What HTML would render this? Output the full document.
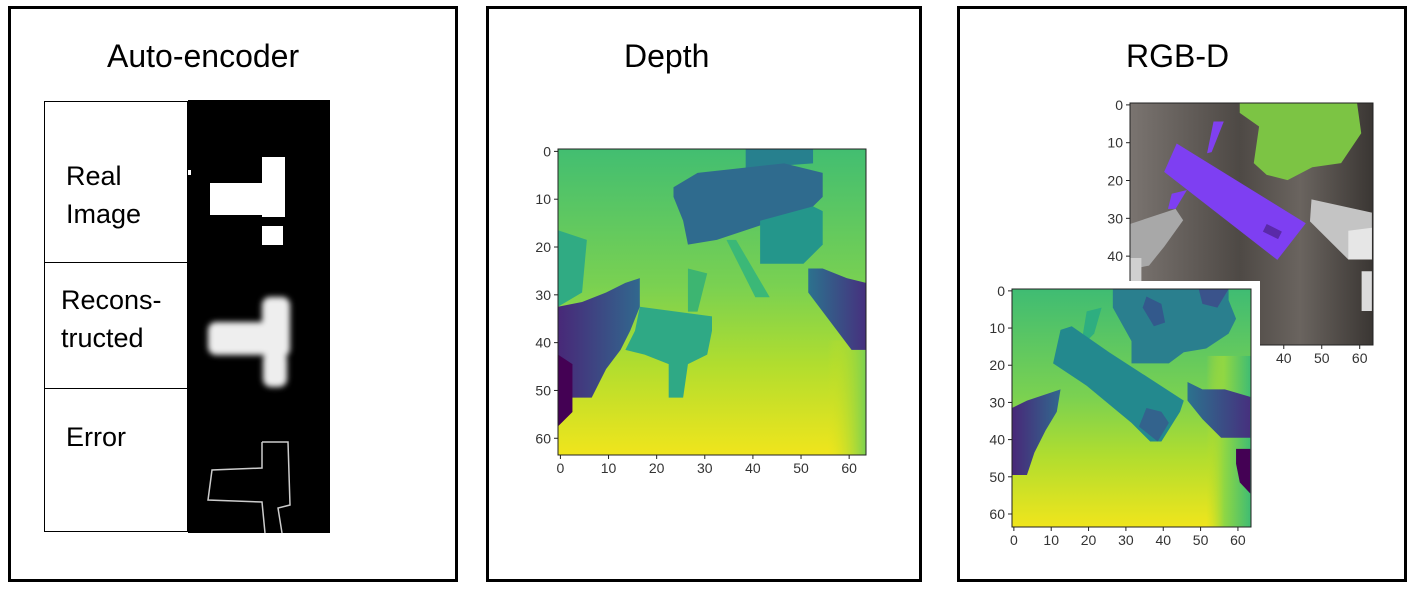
<!DOCTYPE html>
<html><head><meta charset="utf-8">
<style>
html,body{margin:0;padding:0;background:#fff;}
body{width:1409px;height:590px;position:relative;overflow:hidden;font-family:"Liberation Sans",Arial,sans-serif;}
.panel{position:absolute;border:3px solid #000;box-sizing:border-box;background:#fff;}
.title{position:absolute;font-size:32px;color:#000;}
.lbl{position:absolute;font-size:27px;color:#000;line-height:38px;}
svg text{font-family:"Liberation Sans",Arial,sans-serif;font-size:14px;fill:#333;}
</style></head>
<body>
<div class="panel" style="left:8px;top:6px;width:450px;height:576px;"></div>
<div class="panel" style="left:486px;top:6px;width:436px;height:576px;"></div>
<div class="panel" style="left:957px;top:6px;width:450px;height:576px;"></div>

<div class="title" style="left:107px;top:38px;">Auto-encoder</div>
<div class="title" style="left:624px;top:38px;">Depth</div>
<div class="title" style="left:1126px;top:38px;">RGB-D</div>

<svg id="s" width="1409" height="590" style="position:absolute;left:0;top:0;">
<defs>
<linearGradient id="bgD" x1="0" y1="149" x2="0" y2="455" gradientUnits="userSpaceOnUse">
<stop offset="0" stop-color="#42be71"/><stop offset="0.45" stop-color="#7ad151"/><stop offset="0.7" stop-color="#b0dd2f"/><stop offset="1" stop-color="#f0e51c"/></linearGradient>
<linearGradient id="bgB" x1="0" y1="289" x2="0" y2="527" gradientUnits="userSpaceOnUse">
<stop offset="0" stop-color="#3fbc73"/><stop offset="0.45" stop-color="#7ad151"/><stop offset="0.7" stop-color="#b0dd2f"/><stop offset="1" stop-color="#f0e51c"/></linearGradient>
<linearGradient id="edgeD" x1="0" y1="0" x2="1" y2="0"><stop offset="0" stop-color="#d8e219" stop-opacity="0"/><stop offset="1" stop-color="#7ad151"/></linearGradient>
<linearGradient id="edgeB" x1="0" y1="0" x2="1" y2="0"><stop offset="0" stop-color="#c2df23" stop-opacity="0"/><stop offset="0.4" stop-color="#8fd744"/><stop offset="1" stop-color="#3fbc73"/></linearGradient>
<linearGradient id="purp" x1="0" y1="0" x2="1" y2="0"><stop offset="0" stop-color="#482878"/><stop offset="1" stop-color="#31688e"/></linearGradient>
<linearGradient id="purpR" x1="0" y1="0" x2="1" y2="0"><stop offset="0" stop-color="#2c728e"/><stop offset="1" stop-color="#46307e"/></linearGradient>
<linearGradient id="gray" x1="0" y1="0" x2="1" y2="0"><stop offset="0" stop-color="#7a7470"/><stop offset="0.45" stop-color="#4e4945"/><stop offset="0.7" stop-color="#6a645f"/><stop offset="1" stop-color="#3a3633"/></linearGradient>
<filter id="blur"><feGaussianBlur stdDeviation="3"/></filter>
</defs>
</svg>

<div style="position:absolute;left:44px;top:101px;width:144px;height:162px;border:1px solid #000;box-sizing:border-box;"></div>
<div style="position:absolute;left:44px;top:262px;width:144px;height:127px;border:1px solid #000;box-sizing:border-box;"></div>
<div style="position:absolute;left:44px;top:388px;width:144px;height:144px;border:1px solid #000;box-sizing:border-box;"></div>
<div class="lbl" style="left:66px;top:157px;">Real<br>Image</div>
<div class="lbl" style="left:61px;top:281px;">Recons-<br>tructed</div>
<div class="lbl" style="left:66px;top:418px;">Error</div>

<script>
// Image coordinate ticks
const ticksDepth = [0,10,20,30,40,50,60];
const ticksTopY = [0,10,20,30,40];
const ticksTopX = [40,50,60];
const NS='http://www.w3.org/2000/svg';
const svg=document.getElementById('s');
function mk(tag,attrs,parent){const e=document.createElementNS(NS,tag);for(const k in attrs)e.setAttribute(k,attrs[k]);(parent||svg).appendChild(e);return e;}
function axis(x0,y0,w,h){return {sx:v=>x0+v*w/64, sy:v=>y0+v*h/64, x0,y0,w,h};}
function poly(ax,pts,fill){const p=mk('polygon',{points:pts.map(q=>ax.sx(q[0])+','+ax.sy(q[1])).join(' '),fill:fill});

return p;}

// ---- Autoencoder images ----
const ae=mk('rect',{x:188,y:100,width:142,height:433,fill:'#000'});


[[262,157,23,60],[210,183,75,32],[262,226,21,19],[188,170,3,5]].forEach(r=>{const e=mk('rect',{x:r[0],y:r[1],width:r[2],height:r[3],fill:'#fff'});

});
const g=mk('g',{filter:'url(#blur)'});


[[262,297,28,60],[208,322,82,33],[263,352,24,35]].forEach(r=>{const e=mk('rect',{x:r[0],y:r[1],width:r[2],height:r[3],fill:'#eee',rx:8},g);

});
const err=mk('path',{d:'M262 442 L288 442 L290 505 L278 508 L282 533 M262 442 L262 468 L212 470 L208 500 L262 502 L265 533',stroke:'#ccc','stroke-width':1.5,fill:'none'});



function frame(ax,xt,yt,xs,name){
 const f=mk('rect',{x:ax.x0,y:ax.y0,width:ax.w,height:ax.h,fill:'none',stroke:'#222','stroke-width':1});
 
 
 yt.forEach(v=>{mk('line',{x1:ax.x0-4,x2:ax.x0,y1:ax.sy(v+0.5),y2:ax.sy(v+0.5),stroke:'#222'});
  const t=mk('text',{x:ax.x0-7,y:ax.sy(v+0.5)+5,'text-anchor':'end'});t.textContent=v;
  
  });
 xt.forEach(v=>{mk('line',{x1:ax.sx(v+0.5),x2:ax.sx(v+0.5),y1:xs,y2:xs+4,stroke:'#222'});
  const t=mk('text',{x:ax.sx(v+0.5),y:xs+18,'text-anchor':'middle'});t.textContent=v;
  
  });
}

// ---- Depth plot ----
const D=axis(558,149,308,306);
const bgd=mk('rect',{x:D.x0,y:D.y0,width:D.w,height:D.h,fill:'url(#bgD)'});


mk('rect',{x:D.sx(56),y:D.sy(40),width:D.sx(64)-D.sx(56),height:D.sy(64)-D.sy(40),fill:'url(#edgeD)'});
poly(D,[[39,0],[53,0],[53,3],[39,4]],'#27808e');
poly(D,[[24,8],[29,5],[38,4],[47,3],[55,5],[55,10],[53,12],[45,15],[33,19],[27,20],[26,15],[24,10]],'#2f6b8e');
poly(D,[[42,15],[53,12],[55,13],[55,20],[53,22],[51,24],[42,24]],'#24968b');
poly(D,[[0,17],[6,19],[5,30],[0,33]],'#30ab83');
poly(D,[[0,33],[5,32],[10,30],[14,28],[17,27],[17,33],[15,38],[13,42],[10,46],[8,50],[7,52],[2,52],[2,56],[0,57]],'url(#purp)');
poly(D,[[0,43],[3,45],[3,55],[0,58]],'#440154');
poly(D,[[17,33],[32,35],[32,38],[31,43],[27,45],[26,52],[23,52],[23,45],[18,43],[14,42],[16,38]],'#2fa985');
poly(D,[[27,25],[31,26],[29,34],[27,34]],'#3db571');
poly(D,[[35,19],[37,19],[44,31],[41,31]],'#3bb877');
poly(D,[[52,25],[55,25],[60,27],[64,28],[64,42],[61,42],[58,38],[55,34],[52,30]],'url(#purpR)');
frame(D,ticksDepth,ticksDepth,455,'depth');

// ---- RGB top plot ----
const T=axis(1130,103,243,242);
const bgt=mk('rect',{x:T.x0,y:T.y0,width:T.w,height:T.h,fill:'url(#gray)'});


poly(T,[[28.9,0],[59.8,0],[60.9,8],[55.6,15.9],[48,17],[41.5,20.4],[36,19],[32.6,15.9],[34,6.2],[28.9,2.6]],'#7cc444');
poly(T,[[0,32],[12,28],[14,31],[9,38],[5,43],[0,44]],'#a8a8a8');
poly(T,[[0,41],[3,41],[3,64],[0,64]],'#d0d0d0');
poly(T,[[47.8,25.5],[63.7,29],[63.7,41.4],[57.5,41.4],[47.4,31.3]],'#c4c4c4');
poly(T,[[57.5,33.8],[63.7,33],[63.7,41.4],[57.5,41.4]],'#e6e6e6');
poly(T,[[61,44.5],[63.7,44.5],[63.7,55],[61,55]],'#dcdcdc');
poly(T,[[22,4.9],[24.7,4.9],[21.5,13],[20.3,13.3]],'#8040f0');
poly(T,[[12.3,10.7],[46.3,31.8],[38.8,41.5],[9,18.2]],'#7e3ff2');
poly(T,[[11,24],[15,23],[12,28],[10,28]],'#7e3ff2');
poly(T,[[36,32],[40,34],[39,36],[35,34]],'#5a2aa8');
frame(T,[],ticksTopY,345,'rgb');
// white bg behind lower plot
const wb=mk('rect',{x:1000,y:281,width:260,height:255,fill:'#fff'});


ticksTopX.forEach(v=>{const t=mk('text',{x:T.sx(v+0.5),y:363,'text-anchor':'middle'});t.textContent=v;
 
 
 mk('line',{x1:T.sx(v+0.5),x2:T.sx(v+0.5),y1:345,y2:349,stroke:'#222'});});

// ---- RGB-D bottom depth plot ----
const B=axis(1012,289,239,238);
const bgb=mk('rect',{x:B.x0,y:B.y0,width:B.w,height:B.h,fill:'url(#bgB)'});


mk('rect',{x:B.sx(52),y:B.sy(18),width:B.sx(64)-B.sx(52),height:B.sy(64)-B.sy(18),fill:'url(#edgeB)'});
poly(B,[[27,0],[58,0],[58,3],[60,8],[58,12],[52,16],[46,17],[42,20],[32,20],[32,14],[27,5]],'#2a7f8e');
poly(B,[[36,2],[40,4],[41,9],[38,10],[35,5]],'#33598c');
poly(B,[[50,0],[58,0],[55,5],[51,4]],'#3a538b');
poly(B,[[20,6],[24,5],[22,12],[20,14],[19,12]],'#2eae80');
poly(B,[[13,11],[16,10],[26,17],[46,30],[45,33],[40,41],[37,41],[32,36],[20,26],[11,20]],'#23898e');
poly(B,[[36,32],[40,33],[42,36],[39,41],[34,37]],'#33638d');
poly(B,[[0,32],[4,30],[10,28],[13,27],[12,33],[9,38],[6,44],[4,50],[0,50]],'url(#purp)');
poly(B,[[47,25],[51,27],[57,27],[63.8,29],[63.8,40],[56,40],[51,35],[47,30]],'url(#purpR)');
poly(B,[[60,43],[63.8,43],[63.8,55],[61,52],[60,47]],'#440154');
frame(B,ticksDepth,ticksDepth,527,'rgbd-depth');
</script>
</body></html>
